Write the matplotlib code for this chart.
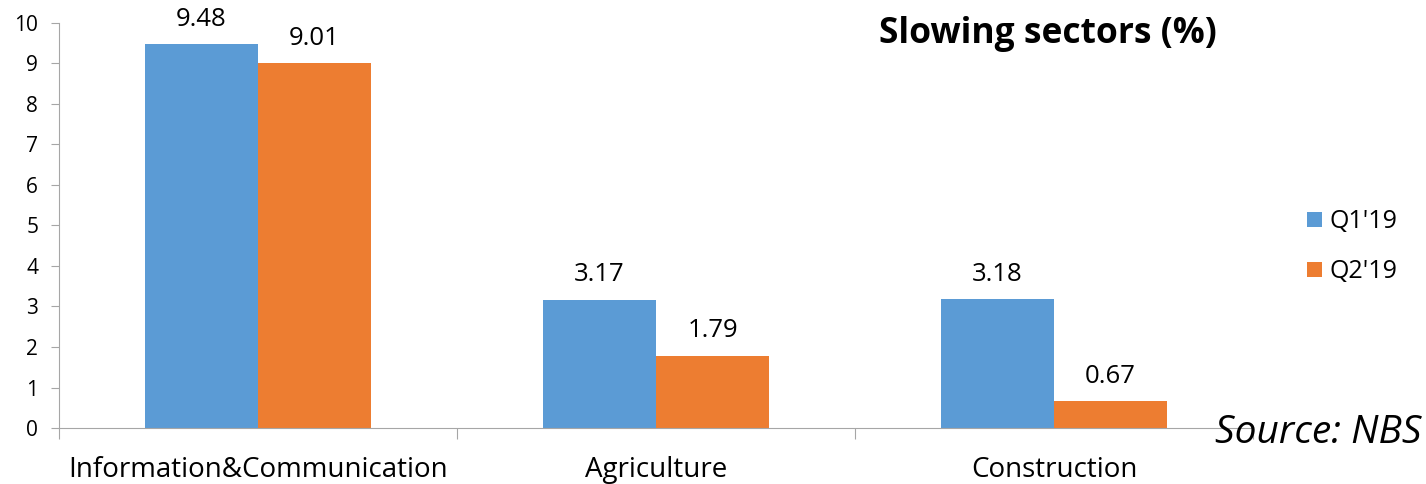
import matplotlib.pyplot as plt
import numpy as np

sectors = ['Information&Communication', 'Agriculture', 'Construction']
q1_2019 = [9.48, 3.17, 3.18]
q2_2019 = [9.01, 1.79, 0.67]
series_names = ["Q1'19", "Q2'19"]

blue = '#5b9bd5'
orange = '#ed7d31'
grey = '#a6a6a6'

plt.rcParams['font.family'] = ['Open Sans', 'DejaVu Sans']

fig = plt.figure(figsize=(14.26, 4.84), dpi=100)
ax = fig.add_axes([0.0414, 0.1157, 0.8373, 0.8368])

x = np.arange(len(sectors))
w = 0.284
b1 = ax.bar(x - w / 2, q1_2019, w, color=blue, label=series_names[0])
b2 = ax.bar(x + w / 2, q2_2019, w, color=orange, label=series_names[1])

# value labels above each bar
for bars, vals in ((b1, q1_2019), (b2, q2_2019)):
    for r, v in zip(bars, vals):
        ax.text(r.get_x() + r.get_width() / 2, v + 0.3, '%.2f' % v,
                ha='center', va='bottom', fontsize=18.5)

ax.set_xlim(-0.5, len(sectors) - 0.5)
ax.set_ylim(0, 10)
ax.set_yticks(range(0, 11))
ax.tick_params(axis='y', labelsize=15, length=6, color=grey, pad=9)

# category labels centred, tick marks between categories
ax.set_xticks(np.arange(-0.5, len(sectors)), labels=[''] * (len(sectors) + 1))
ax.set_xticks(x, labels=sectors, minor=True)
ax.tick_params(axis='x', which='major', length=8, color=grey)
ax.tick_params(axis='x', which='minor', length=0, labelsize=20, pad=20)

for s in ('top', 'right'):
    ax.spines[s].set_visible(False)
ax.spines['left'].set_color(grey)
ax.spines['bottom'].set_color(grey)

fig.text(0.735, 0.93, 'Slowing sectors (%)', fontsize=25.5, fontweight='bold',
         ha='center', va='center')
fig.text(0.997, 0.105, 'Source: NBS', fontsize=28, style='italic',
         ha='right', va='center')

fig.legend(loc='center left', bbox_to_anchor=(0.901, 0.49), frameon=False,
           fontsize=18, handlelength=0.6, handleheight=0.6, handletextpad=0.3,
           labelspacing=1.0)

fig.savefig('out.png', dpi=100)
